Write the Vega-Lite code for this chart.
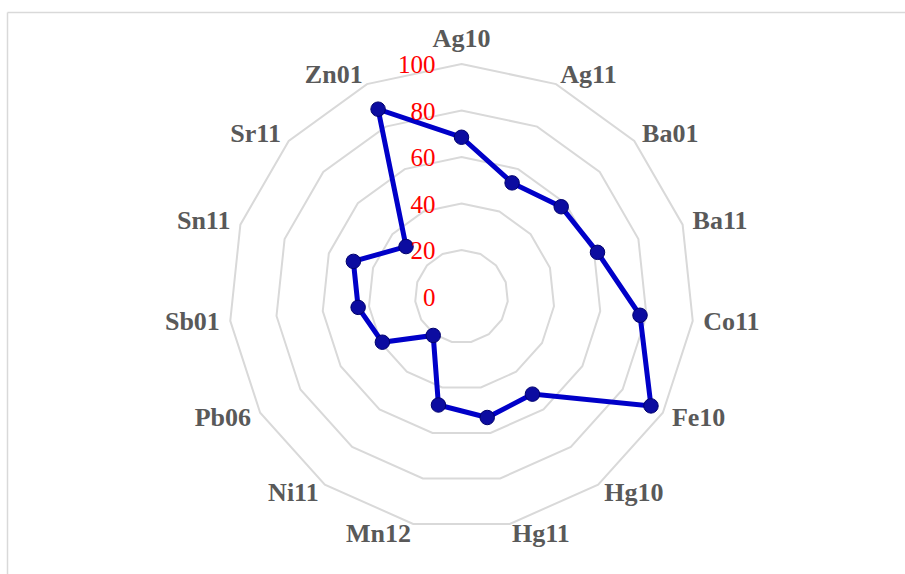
{
  "$schema": "https://vega.github.io/schema/vega-lite/v6.json",
  "width": 898,
  "height": 562,
  "autosize": {"type": "none"},
  "padding": {"left": 7, "top": 12, "right": 0, "bottom": 0},
  "background": "white",
  "config": {
    "view": {"stroke": null},
    "axis": {"labels": false, "ticks": false, "grid": false, "domainColor": "#d9d9d9", "domainWidth": 1.5}
  },
  "datasets": {
    "series": [
      {"cat": "Ag10", "idx": 0, "value": 68.5},
      {"cat": "Ag11", "idx": 1, "value": 53.5},
      {"cat": "Ba01", "idx": 2, "value": 57.7},
      {"cat": "Ba11", "idx": 3, "value": 61.5},
      {"cat": "Co11", "idx": 4, "value": 77.2},
      {"cat": "Fe10", "idx": 5, "value": 94.1},
      {"cat": "Hg10", "idx": 6, "value": 51.9},
      {"cat": "Hg11", "idx": 7, "value": 53.2},
      {"cat": "Mn12", "idx": 8, "value": 47.7},
      {"cat": "Ni11", "idx": 9, "value": 20.7},
      {"cat": "Pb06", "idx": 10, "value": 39.3},
      {"cat": "Sb01", "idx": 11, "value": 44.7},
      {"cat": "Sn11", "idx": 12, "value": 48.9},
      {"cat": "Sr11", "idx": 13, "value": 32.1},
      {"cat": "Zn01", "idx": 14, "value": 88.2}
    ],
    "ticks": [{"t": 0}, {"t": 20}, {"t": 40}, {"t": 60}, {"t": 80}, {"t": 100}]
  },
  "encoding": {
    "x": {"field": "px", "type": "quantitative", "scale": {"domain": [-195.48, 190.75], "nice": false, "zero": false}, "axis": {"orient": "top"}, "title": null},
    "y": {"field": "py", "type": "quantitative", "scale": {"domain": [-119.35, 122.37], "nice": false, "zero": false}, "axis": {"orient": "left"}, "title": null}
  },
  "layer": [
    {
      "data": {"name": "series"},
      "transform": [
        {"calculate": "[20, 40, 60, 80, 100]", "as": "levels"},
        {"flatten": ["levels"], "as": ["level"]},
        {"calculate": "datum.idx * 2 * PI / 15", "as": "ang"},
        {"calculate": "datum.level * sin(datum.ang)", "as": "px"},
        {"calculate": "datum.level * cos(datum.ang)", "as": "py"}
      ],
      "mark": {"type": "line", "interpolate": "linear-closed", "stroke": "#d9d9d9", "strokeWidth": 2},
      "encoding": {
        "detail": {"field": "level", "type": "nominal"},
        "order": {"field": "idx", "type": "quantitative"}
      }
    },
    {
      "data": {"name": "series"},
      "transform": [
        {"calculate": "datum.idx * 2 * PI / 15", "as": "ang"},
        {"calculate": "datum.value * sin(datum.ang)", "as": "px"},
        {"calculate": "datum.value * cos(datum.ang)", "as": "py"}
      ],
      "mark": {"type": "line", "interpolate": "linear-closed", "stroke": "#0000c8", "strokeWidth": 5},
      "encoding": {
        "order": {"field": "idx", "type": "quantitative"}
      }
    },
    {
      "data": {"name": "series"},
      "transform": [
        {"calculate": "datum.idx * 2 * PI / 15", "as": "ang"},
        {"calculate": "datum.value * sin(datum.ang)", "as": "px"},
        {"calculate": "datum.value * cos(datum.ang)", "as": "py"}
      ],
      "mark": {"type": "point", "filled": true, "fill": "#0c0ca0", "opacity": 1, "size": 210, "stroke": "#00006e", "strokeWidth": 1}
    },
    {
      "data": {"name": "ticks"},
      "transform": [
        {"calculate": "0", "as": "px"},
        {"calculate": "datum.t", "as": "py"}
      ],
      "mark": {"type": "text", "align": "right", "baseline": "middle", "dx": -26, "dy": 1, "font": "Liberation Serif", "fontSize": 25, "fill": "#ff0000"},
      "encoding": {"text": {"field": "t", "type": "nominal"}}
    },
    {
      "data": {"name": "series"},
      "transform": [
        {"filter": "datum.idx >= 1 && datum.idx <= 7"},
        {"calculate": "datum.idx * 2 * PI / 15", "as": "ang"},
        {"calculate": "104.5 * sin(datum.ang)", "as": "px"},
        {"calculate": "104.5 * cos(datum.ang)", "as": "py"}
      ],
      "mark": {"type": "text", "align": "left", "baseline": "middle", "font": "Liberation Serif", "fontWeight": "bold", "fontSize": 26, "fill": "#595959"},
      "encoding": {"text": {"field": "cat", "type": "nominal"}}
    },
    {
      "data": {"name": "series"},
      "transform": [
        {"filter": "datum.idx >= 8"},
        {"calculate": "datum.idx * 2 * PI / 15", "as": "ang"},
        {"calculate": "104.5 * sin(datum.ang)", "as": "px"},
        {"calculate": "104.5 * cos(datum.ang)", "as": "py"}
      ],
      "mark": {"type": "text", "align": "right", "baseline": "middle", "font": "Liberation Serif", "fontWeight": "bold", "fontSize": 26, "fill": "#595959"},
      "encoding": {"text": {"field": "cat", "type": "nominal"}}
    },
    {
      "data": {"name": "series"},
      "transform": [
        {"filter": "datum.idx == 0"},
        {"calculate": "0", "as": "px"},
        {"calculate": "105", "as": "py"}
      ],
      "mark": {"type": "text", "align": "center", "baseline": "bottom", "font": "Liberation Serif", "fontWeight": "bold", "fontSize": 26, "fill": "#595959"},
      "encoding": {"text": {"field": "cat", "type": "nominal"}}
    }
  ]
}
